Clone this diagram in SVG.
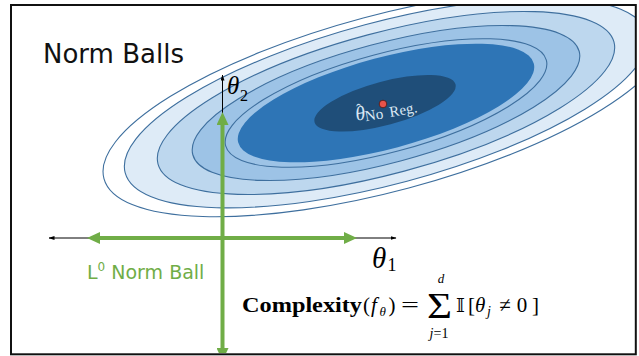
<svg xmlns="http://www.w3.org/2000/svg" width="639" height="356" viewBox="0 0 639 356">
<style>
.ct{stroke:#3e6f9e;stroke-width:1.1}
.ax{stroke:#000;stroke-width:1;fill:none}
.gr{stroke:#70ad47;stroke-width:4;fill:none}
.m{font-family:"Liberation Serif",serif;fill:#000}
.it{font-style:italic}
.sans{font-family:"DejaVu Sans",sans-serif}
</style>
<defs>
<clipPath id="frame"><rect x="12" y="6" width="623" height="347"/></clipPath>
<marker id="ga" viewBox="0 0 13 12" refX="3" refY="6" markerWidth="13" markerHeight="12" orient="auto-start-reverse" markerUnits="userSpaceOnUse"><path d="M0,0 L13,6 L0,12 Z" fill="#70ad47"/></marker>
<marker id="ba" viewBox="0 0 6 4" refX="5.5" refY="2" markerWidth="6" markerHeight="4" orient="auto-start-reverse" markerUnits="userSpaceOnUse"><path d="M0,0 L6,2 L0,4 Z" fill="#000"/></marker>
</defs>
<rect x="0" y="0" width="639" height="356" fill="#fff"/>
<g clip-path="url(#frame)">
<g id="contours" transform="translate(386,103) rotate(-15)">
<ellipse class="ct" rx="292" ry="88" fill="#fff"/>
<ellipse class="ct" rx="270" ry="81" fill="#deebf7"/>
<ellipse class="ct" rx="236" ry="70.5" fill="#bdd7ee"/>
<ellipse class="ct" rx="200" ry="59.7" fill="#9dc3e6"/>
<ellipse class="ct" rx="166" ry="49.5" fill="#9dc3e6"/>
<ellipse rx="153" ry="45.7" fill="#2e75b6"/>
<ellipse cx="-1" cy="0" rx="73" ry="21.8" fill="#1f4e79"/>
</g>
<g id="optimum">
<circle cx="383" cy="104" r="3.8" fill="#e8534a" stroke="#4a1510" stroke-width="0.8"/>
<g transform="rotate(-10 383 104)" fill="#dbe7f3" font-family="Liberation Serif,serif">
<text x="354" y="116" font-size="20" font-style="italic">θ</text>
<text x="356" y="110" font-size="15">ˆ</text>
<text x="363" y="118" font-size="15">No</text>
<text x="388" y="118" font-size="15">Reg.</text>
</g>
</g>
<g id="connectors">
<line class="ax" x1="49" y1="238" x2="396" y2="238" marker-start="url(#ba)" marker-end="url(#ba)"/>
<line class="ax" x1="222.5" y1="75" x2="222.5" y2="354" marker-start="url(#ba)"/>
<line class="gr" x1="97" y1="238" x2="347" y2="238" marker-start="url(#ga)" marker-end="url(#ga)"/>
<line class="gr" x1="222.5" y1="122" x2="222.5" y2="351" marker-start="url(#ga)" marker-end="url(#ga)"/>
</g>
</g>
<g id="title"><text x="43" y="63" class="sans" font-size="26" fill="#111">Norm Balls</text></g>
<g id="axis-labels">
<text x="227" y="94" class="m it" font-size="25">θ</text>
<text x="240" y="101" class="m" font-size="16">2</text>
<text x="372" y="268" class="m it" font-size="29">θ</text>
<text x="387.5" y="271" class="m" font-size="18">1</text>
</g>
<g id="l0-label"><text x="87" y="279" class="sans" font-size="19" fill="#70ad47">L<tspan font-size="12" dy="-8">0</tspan><tspan dy="8"> Norm Ball</tspan></text></g>
<g id="formula">
<text x="242" y="312" class="m" font-size="21" font-weight="bold" textLength="120" lengthAdjust="spacingAndGlyphs">Complexity</text>
<text x="363" y="312" class="m" font-size="21">(</text>
<text x="371" y="312" class="m it" font-size="21">f</text>
<text x="379.5" y="316" class="m it" font-size="13">θ</text>
<text x="388.5" y="312" class="m" font-size="21">)</text>
<text x="401" y="312" class="m" font-size="21" textLength="18" lengthAdjust="spacingAndGlyphs">=</text>
<text x="427" y="318" class="m" font-size="36" textLength="25" lengthAdjust="spacingAndGlyphs">Σ</text>
<text x="441" y="283" class="m it" font-size="13" text-anchor="middle">d</text>
<text x="439" y="338" class="m" font-size="14" text-anchor="middle"><tspan font-style="italic">j</tspan>=1</text>
<text x="460.5" y="312" font-family="DejaVu Serif,DejaVu Sans,serif" font-size="19" text-anchor="middle">𝕀</text>
<text x="468" y="312" class="m" font-size="21">[</text>
<text x="475" y="312" class="m it" font-size="21">θ</text>
<text x="487" y="316" class="m it" font-size="14">j</text>
<text x="505" y="312" class="m" font-size="21" text-anchor="middle">≠</text>
<text x="522" y="312" class="m" font-size="21" text-anchor="middle">0</text>
<text x="532" y="312" class="m" font-size="21">]</text>
</g>
<rect id="border" x="11" y="5" width="624.8" height="349.3" fill="none" stroke="#111" stroke-width="2"/>
</svg>
